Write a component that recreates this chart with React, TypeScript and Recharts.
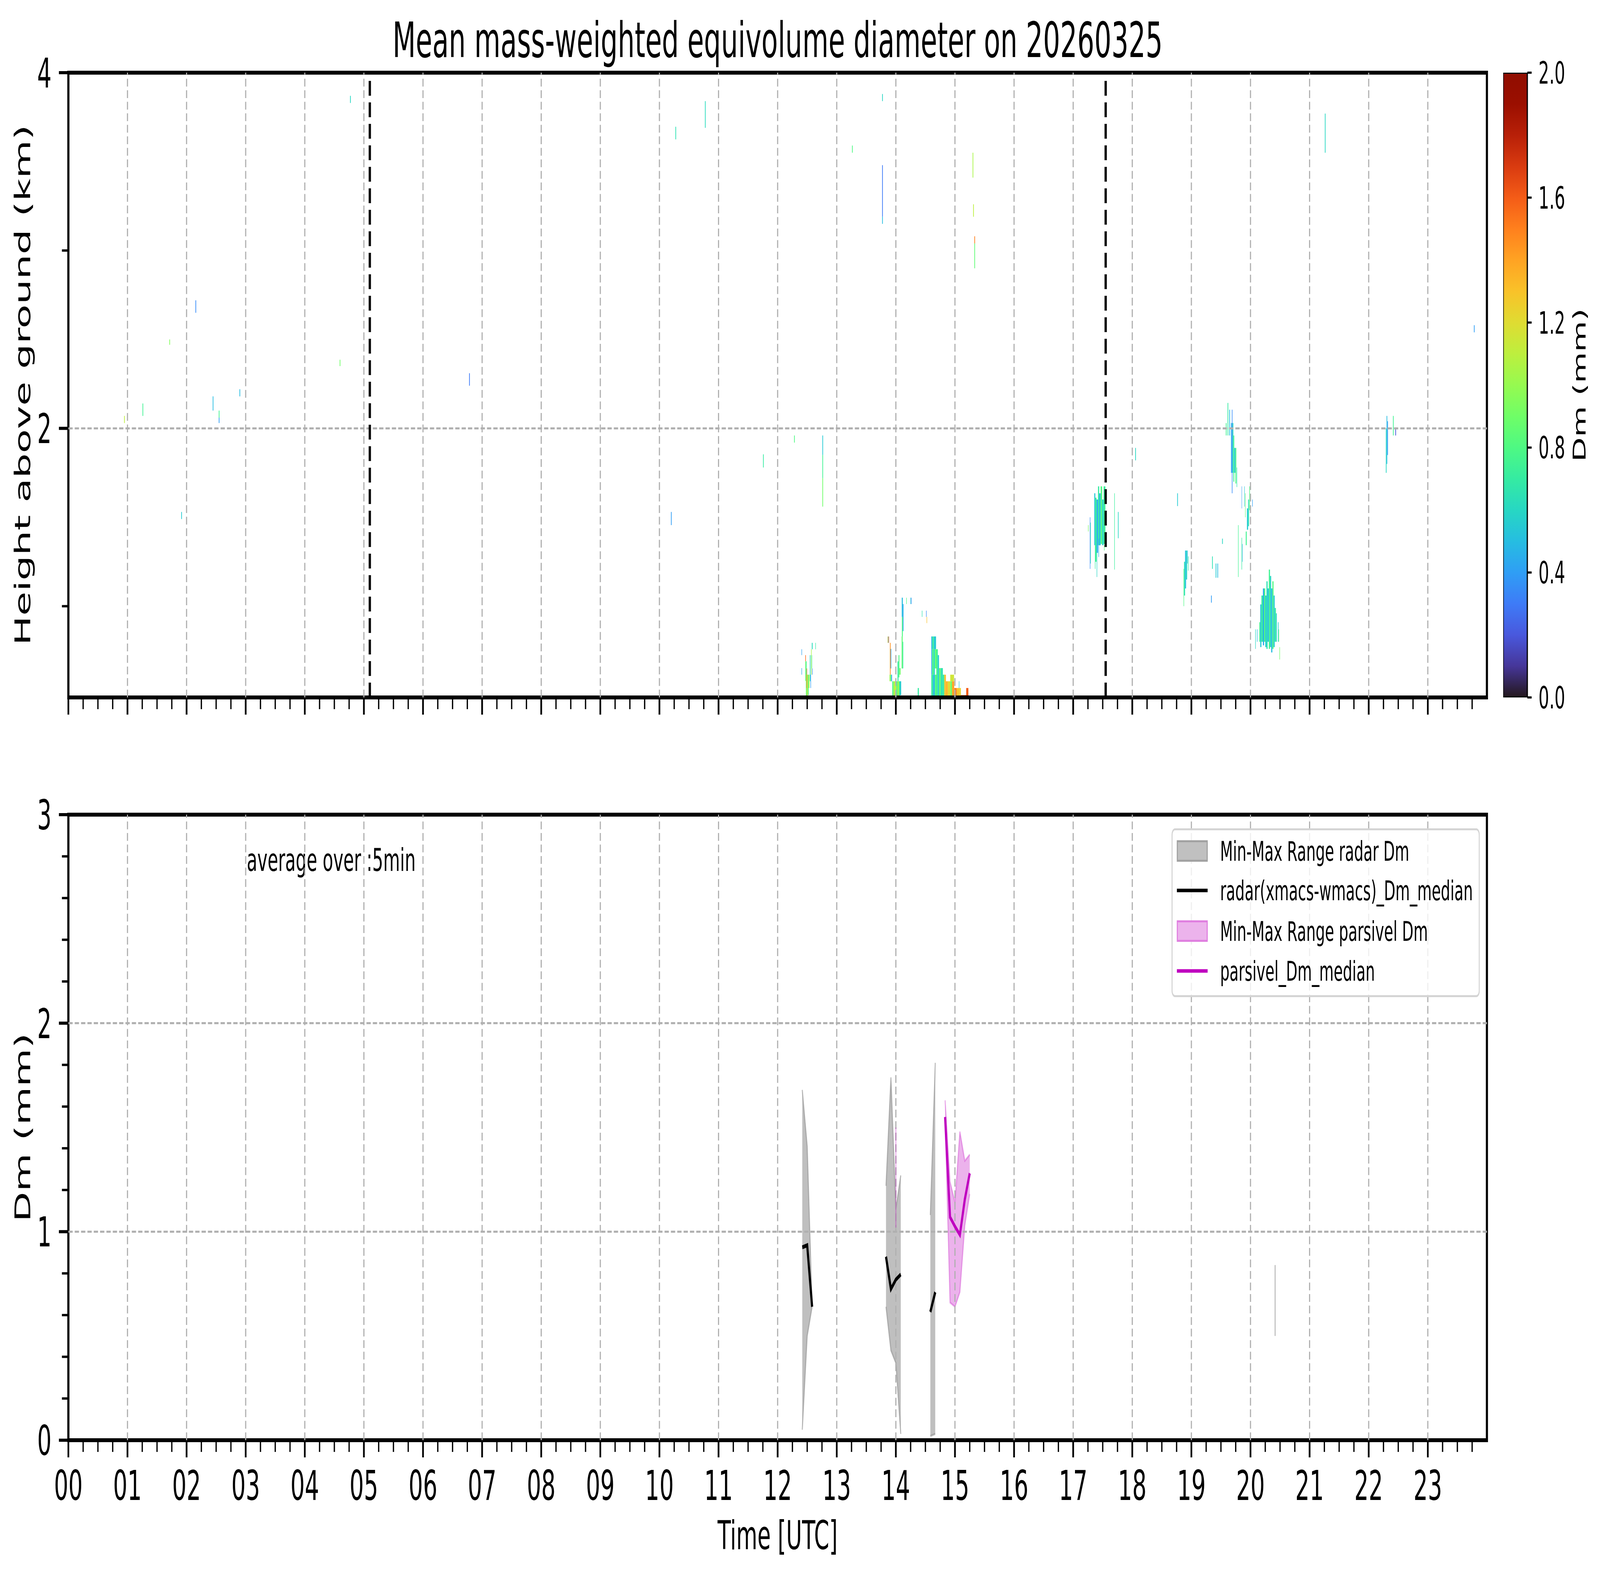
import React from 'react'
import {
  ComposedChart,
  BarChart,
  Bar,
  Area,
  Line,
  XAxis,
  YAxis,
  ReferenceArea,
  ReferenceLine,
  Legend,
  Label,
} from 'recharts'

const FONT = '"DejaVu Sans", "Liberation Sans", sans-serif'
const FIG_W = 7442
const FIG_H = 4031

// ---- axis ticks / labels ----
const hourLabels = [
  '00', '01', '02', '03', '04', '05', '06', '07', '08', '09', '10', '11',
  '12', '13', '14', '15', '16', '17', '18', '19', '20', '21', '22', '23',
]
const quarterTicks = hourLabels.flatMap((_, h) => [h, h + 0.25, h + 0.5, h + 0.75])
const gridHours = hourLabels.map((_, h) => h).filter((h) => h > 0)

const heightTicks = [1, 2, 3, 4]
const heightMajor = [2, 4]
const dmTicks = [0, 0.2, 0.4, 0.6, 0.8, 1, 1.2, 1.4, 1.6, 1.8, 2, 2.2, 2.4, 2.6, 2.8, 3]
const dmMajor = [0, 1, 2, 3]
const cbTicks = [0, 0.4, 0.8, 1.2, 1.6, 2.0]

// dashed black markers in the radar panel (UTC hours)
const markerTimes = [5.1, 17.55]

// ---- radar Dm echoes: [t0, t1, hBottom, hTop, Dm] ----
const echoCells = [
  // 12.4 - 12.65
  [12.404, 12.412, 0.725, 0.758, 0.42],
  [12.404, 12.412, 0.615, 0.652, 0.45],
  [12.468, 12.478, 0.69, 0.725, 1.55],
  [12.468, 12.478, 0.58, 0.69, 0.9],
  [12.478, 12.49, 0.615, 0.69, 0.75],
  [12.478, 12.5, 0.487, 0.615, 0.9],
  [12.49, 12.498, 0.54, 0.65, 1.5],
  [12.5, 12.51, 0.487, 0.615, 1.2],
  [12.51, 12.525, 0.5, 0.615, 0.8],
  [12.525, 12.54, 0.54, 0.615, 1.05],
  [12.545, 12.556, 0.578, 0.725, 0.6],
  [12.556, 12.564, 0.54, 0.615, 0.4],
  [12.566, 12.575, 0.615, 0.758, 1.05],
  [12.575, 12.582, 0.65, 0.725, 0.7],
  [12.582, 12.59, 0.615, 0.65, 0.35],
  [12.578, 12.592, 0.758, 0.794, 0.62],
  [12.638, 12.646, 0.758, 0.794, 0.7],
  // 13.86 - 14.53
  [13.86, 13.868, 0.794, 0.83, 1.3],
  [13.868, 13.876, 0.794, 0.83, 0.5],
  [13.876, 13.884, 0.794, 0.83, 1.6],
  [13.9, 13.912, 0.615, 0.794, 1.45],
  [13.912, 13.922, 0.65, 0.76, 0.4],
  [13.893, 13.908, 0.578, 0.615, 1.0],
  [13.908, 13.922, 0.578, 0.615, 0.85],
  [13.922, 13.935, 0.578, 0.615, 0.4],
  [13.939, 13.96, 0.487, 0.578, 0.8],
  [13.96, 13.985, 0.487, 0.578, 1.05],
  [13.985, 14.01, 0.487, 0.578, 1.1],
  [14.01, 14.03, 0.487, 0.578, 0.8],
  [14.03, 14.05, 0.487, 0.578, 1.05],
  [14.05, 14.07, 0.487, 0.578, 0.75],
  [14.07, 14.09, 0.5, 0.578, 0.55],
  [14.028, 14.045, 0.578, 0.69, 0.7],
  [14.045, 14.06, 0.6, 0.725, 0.8],
  [14.06, 14.08, 0.615, 0.652, 0.9],
  [14.098, 14.115, 0.65, 0.83, 0.85],
  [14.115, 14.125, 0.65, 0.8, 0.7],
  [14.102, 14.118, 0.83, 0.94, 0.8],
  [14.1, 14.118, 0.94, 1.048, 0.5],
  [14.118, 14.13, 0.86, 1.012, 0.45],
  [14.176, 14.184, 1.012, 1.048, 0.8],
  [14.248, 14.256, 1.012, 1.048, 0.55],
  [14.256, 14.264, 1.012, 1.048, 0.35],
  [14.37, 14.39, 0.487, 0.54, 0.7],
  [14.44, 14.448, 0.94, 0.975, 0.65],
  [14.512, 14.52, 0.94, 0.975, 0.35],
  [14.52, 14.528, 0.905, 0.94, 1.3],
  // 14.6 - 15.26
  [14.6, 14.62, 0.758, 0.83, 0.5],
  [14.62, 14.64, 0.758, 0.83, 0.75],
  [14.64, 14.68, 0.758, 0.83, 0.55],
  [14.6, 14.615, 0.615, 0.758, 0.45],
  [14.615, 14.64, 0.615, 0.758, 0.8],
  [14.64, 14.66, 0.615, 0.758, 0.6],
  [14.66, 14.685, 0.65, 0.758, 0.85],
  [14.6, 14.63, 0.487, 0.615, 0.7],
  [14.63, 14.66, 0.487, 0.615, 0.5],
  [14.66, 14.69, 0.487, 0.615, 0.8],
  [14.685, 14.71, 0.487, 0.758, 0.75],
  [14.71, 14.73, 0.487, 0.725, 0.55],
  [14.73, 14.76, 0.487, 0.652, 0.85],
  [14.76, 14.795, 0.487, 0.652, 0.65],
  [14.795, 14.82, 0.487, 0.615, 0.7],
  [14.82, 14.847, 0.487, 0.615, 1.3],
  [14.92, 14.985, 0.578, 0.615, 1.15],
  [14.847, 14.88, 0.487, 0.578, 1.35],
  [14.88, 14.92, 0.487, 0.578, 1.2],
  [14.92, 14.95, 0.487, 0.578, 0.9],
  [14.95, 14.987, 0.487, 0.578, 1.4],
  [14.987, 15.03, 0.487, 0.54, 1.5],
  [15.03, 15.07, 0.487, 0.54, 1.3],
  [15.07, 15.1, 0.487, 0.54, 1.25],
  [15.066, 15.074, 0.54, 0.578, 0.55],
  [15.1, 15.18, 0.487, 0.5, 1.6],
  [15.18, 15.23, 0.487, 0.5, 1.75],
  [15.19, 15.227, 0.5, 0.54, 1.6],
  // 17.25 - 17.77
  [17.252, 17.26, 1.42, 1.456, 0.9],
  [17.282, 17.29, 1.21, 1.5, 0.35],
  [17.29, 17.298, 1.24, 1.47, 0.65],
  [17.357, 17.375, 1.343, 1.635, 0.55],
  [17.375, 17.395, 1.25, 1.61, 0.75],
  [17.395, 17.42, 1.3, 1.6, 0.45],
  [17.42, 17.44, 1.343, 1.674, 0.7],
  [17.44, 17.465, 1.343, 1.635, 0.5],
  [17.465, 17.49, 1.35, 1.674, 0.8],
  [17.49, 17.515, 1.343, 1.6, 0.6],
  [17.515, 17.545, 1.35, 1.674, 0.72],
  [17.368, 17.376, 1.21, 1.343, 0.7],
  [17.398, 17.406, 1.164, 1.3, 0.6],
  [17.428, 17.436, 1.277, 1.38, 0.45],
  [17.523, 17.531, 1.313, 1.343, 0.8],
  [17.696, 17.704, 1.206, 1.635, 0.72],
  [17.757, 17.768, 1.382, 1.53, 0.6],
  // 18.87 - 18.96
  [18.868, 18.876, 1.0, 1.21, 0.8],
  [18.876, 18.893, 1.06, 1.25, 0.65],
  [18.893, 18.91, 1.1, 1.313, 0.5],
  [18.91, 18.928, 1.15, 1.313, 0.6],
  [18.93, 18.938, 1.24, 1.313, 0.45],
  [18.944, 18.952, 1.2, 1.28, 0.7],
  // 19.58 - 20.05
  [19.67, 19.685, 1.75, 2.03, 0.45],
  [19.685, 19.695, 1.635, 2.105, 0.35],
  [19.695, 19.71, 1.75, 2.03, 0.6],
  [19.71, 19.725, 1.7, 1.96, 0.75],
  [19.725, 19.745, 1.75, 1.89, 0.55],
  [19.745, 19.76, 1.69, 1.89, 0.8],
  [19.766, 19.774, 1.67, 1.78, 0.65],
  [19.79, 19.798, 1.164, 1.456, 0.75],
  [19.849, 19.857, 1.206, 1.385, 0.7],
  [19.86, 19.866, 1.25, 1.35, 0.45],
  [19.85, 19.856, 1.55, 1.674, 0.4],
  [19.895, 19.902, 1.56, 1.674, 0.55],
  [19.91, 19.917, 1.5, 1.635, 0.85],
  [19.92, 19.936, 1.343, 1.42, 0.75],
  [19.94, 19.96, 1.43, 1.55, 0.55],
  [19.96, 19.975, 1.45, 1.6, 0.65],
  [19.98, 19.99, 1.54, 1.674, 0.8],
  [20.03, 20.038, 1.56, 1.6, 0.4],
  // 20.08 - 20.5
  [20.081, 20.089, 0.76, 0.87, 0.6],
  [20.11, 20.118, 0.8, 0.87, 0.5],
  [20.15, 20.165, 0.8, 0.91, 0.75],
  [20.165, 20.185, 0.77, 1.01, 0.55],
  [20.185, 20.21, 0.8, 1.06, 0.7],
  [20.21, 20.23, 0.78, 1.1, 0.45],
  [20.23, 20.25, 0.8, 1.1, 0.8],
  [20.25, 20.27, 0.77, 1.06, 0.55],
  [20.27, 20.29, 0.76, 1.14, 0.65],
  [20.29, 20.31, 0.8, 1.1, 0.5],
  [20.31, 20.33, 0.76, 1.206, 0.75],
  [20.33, 20.35, 0.77, 1.17, 0.6],
  [20.35, 20.37, 0.74, 1.1, 0.5],
  [20.37, 20.39, 0.76, 1.14, 0.8],
  [20.39, 20.41, 0.77, 1.06, 0.55],
  [20.41, 20.43, 0.8, 0.99, 0.7],
  [20.43, 20.445, 0.8, 0.96, 0.6],
  [20.465, 20.475, 0.8, 0.91, 0.55],
  [20.475, 20.483, 0.8, 0.87, 0.85],
  [20.49, 20.498, 0.7, 0.77, 0.9],
]

// isolated single-column streaks: [t, hBottom, hTop, Dm]
const echoStreaks = [
  [0.943, 2.03, 2.07, 1.1],
  [1.254, 2.07, 2.14, 0.75],
  [1.708, 2.47, 2.5, 0.95],
  [1.909, 1.49, 1.53, 0.55],
  [2.15, 2.65, 2.72, 0.35],
  [2.442, 2.1, 2.18, 0.5],
  [2.544, 2.06, 2.1, 0.75],
  [2.544, 2.03, 2.06, 0.4],
  [2.895, 2.18, 2.22, 0.5],
  [4.59, 2.35, 2.386, 0.9],
  [4.766, 3.83, 3.87, 0.6],
  [6.78, 2.24, 2.31, 0.3],
  [10.195, 1.456, 1.53, 0.4],
  [10.27, 3.625, 3.696, 0.65],
  [10.77, 3.69, 3.84, 0.62],
  [11.753, 1.78, 1.854, 0.7],
  [12.278, 1.92, 1.96, 0.8],
  [12.757, 1.85, 1.96, 0.55],
  [12.757, 1.72, 1.85, 0.75],
  [12.757, 1.56, 1.72, 0.9],
  [13.258, 3.55, 3.59, 0.8],
  [13.768, 3.84, 3.88, 0.6],
  [13.768, 3.19, 3.48, 0.3],
  [13.768, 3.15, 3.19, 0.5],
  [15.298, 3.41, 3.55, 1.05],
  [15.308, 3.19, 3.26, 1.1],
  [15.328, 2.9, 3.04, 0.85],
  [15.328, 3.04, 3.08, 1.5],
  [18.05, 1.82, 1.89, 0.6],
  [18.76, 1.563, 1.635, 0.55],
  [19.333, 1.02, 1.06, 0.4],
  [19.35, 1.21, 1.28, 0.65],
  [19.41, 1.16, 1.24, 0.55],
  [19.44, 1.16, 1.24, 0.5],
  [19.52, 1.35, 1.38, 0.6],
  [19.583, 1.96, 2.03, 0.75],
  [19.612, 1.96, 2.143, 0.7],
  [19.641, 1.96, 2.105, 0.5],
  [21.258, 3.55, 3.77, 0.6],
  [22.29, 1.75, 2.0, 0.6],
  [22.302, 1.8, 2.07, 0.5],
  [22.314, 1.85, 2.04, 0.4],
  [22.41, 1.96, 2.07, 0.75],
  [22.45, 1.96, 2.0, 0.2],
  [23.78, 2.54, 2.58, 0.4],
]

// ---- 5-min Dm statistics ----
const dmTimes = [
  12.4167, 12.5, 12.5833, 12.6667, 13.8333, 13.9167, 14.0, 14.0833, 14.1667, 14.5833,
  14.6667, 14.75, 14.8333, 14.9167, 15.0, 15.0833, 15.1667, 15.25, 15.3333, 20.4167,
]
const radarMin = [0.05, 0.5, 0.64, null, 0.64, 0.43, 0.37, 0.03, null, 0.02, 0.03, null, null, null, null, null, null, null, null, 0.5]
const radarMax = [1.68, 1.41, 0.64, null, 1.22, 1.74, 1.11, 1.27, null, 1.08, 1.81, null, null, null, null, null, null, null, null, 0.84]
const radarMedian = [0.925, 0.935, 0.64, null, 0.88, 0.725, 0.77, 0.795, null, 0.615, 0.71, null, null, null, null, null, null, null, null, null]
const parsMin = [null, null, null, null, null, null, 1.02, null, null, null, null, null, 1.54, 0.66, 0.64, 0.71, 1.03, 1.18, null, null]
const parsMax = [null, null, null, null, null, null, 1.5, null, null, null, null, null, 1.63, 1.24, 1.14, 1.48, 1.34, 1.37, null, null]
const parsMedian = [null, null, null, null, null, null, null, null, null, null, null, null, 1.55, 1.07, 1.025, 0.985, 1.155, 1.28, null, null]

const dmRows = dmTimes.map((t, i) => ({
  t,
  radarRange: radarMin[i] == null ? null : [radarMin[i], radarMax[i]],
  radarMedian: radarMedian[i],
  parsRange: parsMin[i] == null ? null : [parsMin[i], parsMax[i]],
  parsMedian: parsMedian[i],
}))

const seriesStyle: Record<string, any> = {
  radarRange: { name: 'Min-Max Range radar Dm', kind: 'patch', fill: '#c0c0c0', edge: '#a0a0a0' },
  radarMedian: { name: 'radar(xmacs-wmacs)_Dm_median', kind: 'line', color: '#000000' },
  parsRange: { name: 'Min-Max Range parsivel Dm', kind: 'patch', fill: '#ecb3ec', edge: '#df7ddf' },
  parsMedian: { name: 'parsivel_Dm_median', kind: 'line', color: '#bf00bf' },
}
const legendOrder = ['radarRange', 'radarMedian', 'parsRange', 'parsMedian']

// single 5-min samples show up as vertical strokes
function isolatedSpikes(key: string) {
  return dmRows
    .map((r: any, i) => ({ r, i }))
    .filter(({ r, i }) => r[key] && !(dmRows[i - 1] as any)?.[key] && !(dmRows[i + 1] as any)?.[key])
    .map(({ r }) => ({ t: r.t, lo: r[key][0], hi: r[key][1] }))
}

// matplotlib 'turbo' (polynomial approximation), vmin 0 / vmax 2
function turbo(v: number) {
  const x = Math.min(1, Math.max(0, v / 2))
  const r = 0.13572138 + x * (4.6153926 + x * (-42.66032258 + x * (132.13108234 + x * (-152.94239396 + x * 59.28637943))))
  const g = 0.09140261 + x * (2.19418839 + x * (4.84296658 + x * (-14.18503333 + x * (4.27729857 + x * 2.82956604))))
  const b = 0.1066733 + x * (12.64194608 + x * (-60.58204836 + x * (110.36276771 + x * (-89.90310912 + x * 27.34824973))))
  const c = (u: number) => Math.round(Math.min(1, Math.max(0, u)) * 255)
  return `rgb(${c(r)},${c(g)},${c(b)})`
}

const GRID = { stroke: '#b0b0b0', strokeWidth: 5.3, strokeDasharray: '20 9.5' }

function TimeTick(props: any) {
  const { x, y, payload, showLabel } = props
  const v = payload.value
  const h = Math.round(v)
  const major = Math.abs(v - h) < 1e-6
  return (
    <g>
      <line x1={x} x2={x} y1={y} y2={y + (major ? 44 : 30)} stroke="#000" strokeWidth={major ? 8 : 6} />
      {showLabel && major ? (
        <text x={x} y={y + 153} textAnchor="middle" fontSize={105} fontFamily={FONT} fill="#000">
          {hourLabels[h]}
        </text>
      ) : null}
    </g>
  )
}

function LeftTick(props: any) {
  const { x, y, payload, majors } = props
  const v = payload.value
  const major = majors.some((m: number) => Math.abs(m - v) < 1e-6)
  return (
    <g>
      <line x1={x - (major ? 44 : 30)} x2={x} y1={y} y2={y} stroke="#000" strokeWidth={major ? 8 : 6} />
      {major ? (
        <text x={x - 78} y={y + 38} textAnchor="end" fontSize={105} fontFamily={FONT} fill="#000">
          {String(Math.round(v))}
        </text>
      ) : null}
    </g>
  )
}

function ColorbarTick(props: any) {
  const { x, y, payload } = props
  return (
    <g>
      <line x1={x} x2={x + 20} y1={y} y2={y} stroke="#000" strokeWidth={5.5} />
      <text x={x + 52} y={y + 28} fontSize={78} fontFamily={FONT} fill="#000">
        {Number(payload.value).toFixed(1)}
      </text>
    </g>
  )
}

function sideLabel(text: string, dx: number, size: number) {
  return (props: any) => {
    const vb = props.viewBox || { x: 0, y: 0, width: 0, height: 0 }
    const cx = vb.x + dx
    const cy = vb.y + vb.height / 2
    return (
      <text
        x={cx}
        y={cy}
        transform={`rotate(-90, ${cx}, ${cy})`}
        textAnchor="middle"
        dominantBaseline="central"
        fontSize={size}
        fontFamily={FONT}
        fill="#000"
      >
        {text}
      </text>
    )
  }
}

function DmLegend(props: any) {
  const items = (props.payload || [])
    .filter((p: any) => seriesStyle[p.dataKey])
    .sort((a: any, b: any) => legendOrder.indexOf(a.dataKey) - legendOrder.indexOf(b.dataKey))
  const rowY = [58, 159, 263, 365]
  return (
    <svg width={1434} height={432}>
      <rect x={2.5} y={2.5} width={1429} height={427} rx={14} fill="#fff" fillOpacity={0.8} stroke="#d4d4d4" strokeWidth={5} />
      {items.map((p: any, i: number) => {
        const s = seriesStyle[p.dataKey]
        const cy = rowY[i]
        return (
          <g key={p.dataKey}>
            {s.kind === 'patch' ? (
              <rect x={27} y={cy - 25} width={139} height={50} fill={s.fill} stroke={s.edge} strokeWidth={5} />
            ) : (
              <line x1={25} x2={168} y1={cy} y2={cy} stroke={s.color} strokeWidth={9} />
            )}
            <text x={226} y={cy + 25} fontSize={69} fontFamily={FONT} fill="#000">
              {s.name}
            </text>
          </g>
        )
      })}
    </svg>
  )
}

export default function App() {
  // the figure is laid out at 7442 x 4031 and fitted to the browser viewport
  const vw = (typeof window !== 'undefined' && window.innerWidth) || FIG_W
  const vh = (typeof window !== 'undefined' && window.innerHeight) || FIG_H
  const sx = vw / FIG_W
  const sy = vh / FIG_H

  const cells = [
    ...echoCells.map(([t0, t1, h0, h1, v]) => ({ t0, t1, h0, h1, v })),
    ...echoStreaks.map(([t, h0, h1, v]) => ({ t0: t, t1: t + 0.012, h0, h1, v })),
  ]
  const radarSpikes = isolatedSpikes('radarRange')
  const parsSpikes = isolatedSpikes('parsRange')

  return (
    <div
      style={{
        position: 'absolute',
        left: 0,
        top: 0,
        width: FIG_W * sx,
        height: FIG_H * sy,
        overflow: 'hidden',
        background: '#fff',
      }}
    >
      <div
        style={{
          position: 'relative',
          width: FIG_W,
          height: FIG_H,
          transform: `scale(${sx}, ${sy})`,
          transformOrigin: '0 0',
          fontFamily: FONT,
        }}
      >
        {/* radar Dm height-time section */}
        <div style={{ position: 'absolute', left: 0, top: 0 }}>
          <ComposedChart width={FIG_W} height={1900} data={[]} margin={{ top: 186, right: 526, bottom: 0, left: 0 }}>
            <XAxis
              type="number"
              dataKey="t"
              domain={[0, 24]}
              allowDataOverflow
              ticks={quarterTicks}
              interval={0}
              height={115}
              axisLine={false}
              tickLine={false}
              tickSize={0}
              tickMargin={0}
              tick={(p: any) => <TimeTick {...p} showLabel={false} />}
            />
            <YAxis
              type="number"
              domain={[0.487, 4]}
              allowDataOverflow
              ticks={heightTicks}
              interval={0}
              width={318}
              axisLine={false}
              tickLine={false}
              tickSize={0}
              tickMargin={0}
              tick={(p: any) => <LeftTick {...p} majors={heightMajor} />}
            >
              <Label content={sideLabel('Height above ground (km)', 104, 101)} />
            </YAxis>
            {cells.map((c, i) => (
              <ReferenceArea
                key={'c' + i}
                x1={c.t0}
                x2={c.t1}
                y1={c.h0}
                y2={c.h1}
                fill={turbo(c.v)}
                fillOpacity={1}
                stroke="none"
                ifOverflow="visible"
              />
            ))}
            {gridHours.map((h) => (
              <ReferenceLine key={'g' + h} x={h} {...GRID} />
            ))}
            {heightMajor
              .filter((h) => h < 4)
              .map((h) => (
                <ReferenceLine key={'gy' + h} y={h} {...GRID} />
              ))}
            {markerTimes.map((t) => (
              <ReferenceLine key={'m' + t} x={t} stroke="#000" strokeWidth={10.7} strokeDasharray="38 17" />
            ))}
            <ReferenceArea
              x1={0}
              x2={24}
              y1={0.487}
              y2={4}
              fill="none"
              fillOpacity={0}
              stroke="#000"
              strokeWidth={10}
              ifOverflow="visible"
              label={(props: any) => {
                const vb = props.viewBox || { x: 0, y: 0, width: 0 }
                return (
                  <text x={vb.x + vb.width / 2} y={vb.y - 40} textAnchor="middle" fontSize={125} fontFamily={FONT} fill="#000">
                    Mean mass-weighted equivolume diameter on 20260325
                  </text>
                )
              }}
            />
          </ComposedChart>
        </div>

        {/* colorbar */}
        <div style={{ position: 'absolute', left: 6992, top: 0 }}>
          <BarChart
            width={450}
            height={1900}
            data={[{ k: 'Dm', span: [0, 2] }]}
            margin={{ top: 186, right: 0, bottom: 115, left: 0 }}
            barCategoryGap={0}
          >
            <defs>
              <linearGradient id="turboGrad" x1="0" y1="1" x2="0" y2="0">
                {cbTicks
                  .concat([0.1, 0.2, 0.3, 0.5, 0.6, 0.7, 0.9, 1.0, 1.1, 1.3, 1.4, 1.5, 1.7, 1.8, 1.9])
                  .sort((a, b) => a - b)
                  .map((v) => (
                    <stop key={v} offset={`${(v / 2) * 100}%`} stopColor={turbo(v)} />
                  ))}
              </linearGradient>
            </defs>
            <XAxis dataKey="k" hide />
            <YAxis
              orientation="right"
              type="number"
              domain={[0, 2]}
              allowDataOverflow
              ticks={cbTicks}
              interval={0}
              width={338}
              axisLine={false}
              tickLine={false}
              tickSize={0}
              tickMargin={0}
              tick={(p: any) => <ColorbarTick {...p} />}
            >
              <Label content={sideLabel('Dm (mm)', 242, 82)} />
            </YAxis>
            <Bar dataKey="span" fill="url(#turboGrad)" stroke="#000" strokeWidth={5.5} isAnimationActive={false} />
          </BarChart>
        </div>

        {/* Dm time series */}
        <div style={{ position: 'absolute', left: 0, top: 1900 }}>
          <ComposedChart width={FIG_W} height={2131} data={dmRows} margin={{ top: 185, right: 526, bottom: 0, left: 0 }}>
            <XAxis
              type="number"
              dataKey="t"
              domain={[0, 24]}
              allowDataOverflow
              ticks={quarterTicks}
              interval={0}
              height={345}
              axisLine={false}
              tickLine={false}
              tickSize={0}
              tickMargin={0}
              tick={(p: any) => <TimeTick {...p} showLabel />}
            >
              <Label
                content={(props: any) => {
                  const vb = props.viewBox || { x: 0, y: 0, width: 0 }
                  return (
                    <text
                      x={vb.x + vb.width / 2}
                      y={vb.y + 244}
                      textAnchor="middle"
                      dominantBaseline="central"
                      fontSize={101}
                      fontFamily={FONT}
                      fill="#000"
                    >
                      Time [UTC]
                    </text>
                  )
                }}
              />
            </XAxis>
            <YAxis
              type="number"
              domain={[0, 3]}
              allowDataOverflow
              ticks={dmTicks}
              interval={0}
              width={318}
              axisLine={false}
              tickLine={false}
              tickSize={0}
              tickMargin={0}
              tick={(p: any) => <LeftTick {...p} majors={dmMajor} />}
            >
              <Label content={sideLabel('Dm (mm)', 104, 101)} />
            </YAxis>
            <Area
              dataKey="radarRange"
              name={seriesStyle.radarRange.name}
              type="linear"
              fill="#808080"
              fillOpacity={0.5}
              stroke="#808080"
              strokeOpacity={0.5}
              strokeWidth={5}
              legendType="rect"
              dot={false}
              activeDot={false}
              isAnimationActive={false}
            />
            <Area
              dataKey="parsRange"
              name={seriesStyle.parsRange.name}
              type="linear"
              fill="#bf00bf"
              fillOpacity={0.3}
              stroke="#bf00bf"
              strokeOpacity={0.3}
              strokeWidth={5}
              legendType="rect"
              dot={false}
              activeDot={false}
              isAnimationActive={false}
            />
            {gridHours.map((h) => (
              <ReferenceLine key={'g' + h} x={h} {...GRID} />
            ))}
            {dmMajor
              .filter((v) => v > 0 && v < 3)
              .map((v) => (
                <ReferenceLine key={'gy' + v} y={v} {...GRID} />
              ))}
            {radarSpikes.map((s) => (
              <ReferenceLine
                key={'rs' + s.t}
                segment={[{ x: s.t, y: s.lo }, { x: s.t, y: s.hi }]}
                stroke="#808080"
                strokeOpacity={0.5}
                strokeWidth={5}
              />
            ))}
            {parsSpikes.map((s) => (
              <ReferenceLine
                key={'ps' + s.t}
                segment={[{ x: s.t, y: s.lo }, { x: s.t, y: s.hi }]}
                stroke="#bf00bf"
                strokeOpacity={0.3}
                strokeWidth={5}
              />
            ))}
            <Line
              dataKey="radarMedian"
              name={seriesStyle.radarMedian.name}
              type="linear"
              stroke="#000"
              strokeWidth={10}
              dot={false}
              activeDot={false}
              legendType="line"
              isAnimationActive={false}
            />
            <Line
              dataKey="parsMedian"
              name={seriesStyle.parsMedian.name}
              type="linear"
              stroke="#bf00bf"
              strokeWidth={10}
              dot={false}
              activeDot={false}
              legendType="line"
              isAnimationActive={false}
            />
            <ReferenceArea
              x1={0}
              x2={24}
              y1={0}
              y2={3}
              fill="none"
              fillOpacity={0}
              stroke="#000"
              strokeWidth={10}
              ifOverflow="visible"
              label={(props: any) => {
                const vb = props.viewBox || { x: 0, y: 0, width: 0, height: 0 }
                return (
                  <text x={vb.x + 0.1258 * vb.width} y={vb.y + 0.09 * vb.height} fontSize={80} fontFamily={FONT} fill="#000">
                    average over :5min
                  </text>
                )
              }}
            />
            <Legend
              layout="vertical"
              align="center"
              verticalAlign="middle"
              content={(p: any) => <DmLegend {...p} />}
              wrapperStyle={{ position: 'absolute', left: 5449, top: 220, width: 1434, height: 432 }}
            />
          </ComposedChart>
        </div>
      </div>
    </div>
  )
}
